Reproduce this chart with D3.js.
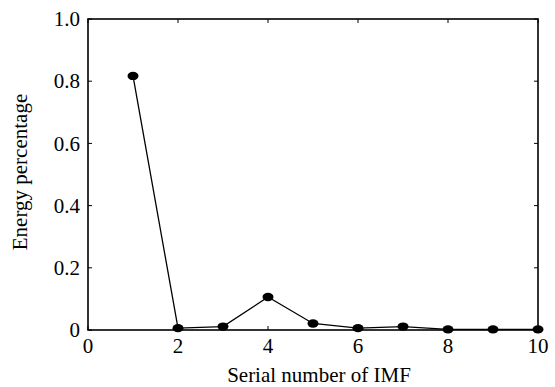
<!DOCTYPE html>
<html><head><meta charset="utf-8">
<script src="https://cdn.jsdelivr.net/npm/d3@7"></script>
<style>body{margin:0;background:#fff}svg{display:block}text{font-family:"Liberation Serif","Times New Roman",serif;fill:#000}</style>
</head><body>
<svg id="c" width="555" height="387"></svg>
<script>
const imf = [1,2,3,4,5,6,7,8,9,10];
const energy = [0.817,0.006,0.011,0.106,0.021,0.006,0.011,0.002,0.002,0.002];
const xTicks = [0,2,4,6,8,10];
const yTicks = [0,0.2,0.4,0.6,0.8,1.0];

const svg = d3.select("#c");
const L=88,R=538,T=19,B=330;
const x = d3.scaleLinear().domain([0,10]).range([L,R]);
const y = d3.scaleLinear().domain([0,1]).range([B,T]);
const fs = 21;

svg.append("rect").attr("x",L).attr("y",T).attr("width",R-L).attr("height",B-T)
  .attr("fill","none").attr("stroke","#000").attr("stroke-width",1.6);

const g = svg.append("g");
xTicks.forEach(t=>{
  g.append("line").attr("x1",x(t)).attr("x2",x(t)).attr("y1",B).attr("y2",B-4).attr("stroke","#000");
  g.append("line").attr("x1",x(t)).attr("x2",x(t)).attr("y1",T).attr("y2",T+4).attr("stroke","#000");
  g.append("text").attr("x",x(t)).attr("y",353).attr("text-anchor","middle").attr("font-size",fs)
    .text(d3.format("d")(t));
});
yTicks.forEach(t=>{
  g.append("line").attr("x1",L).attr("x2",L+4).attr("y1",y(t)).attr("y2",y(t)).attr("stroke","#000");
  g.append("line").attr("x1",R).attr("x2",R-4).attr("y1",y(t)).attr("y2",y(t)).attr("stroke","#000");
  g.append("text").attr("x",80).attr("y",y(t)).attr("dy","0.34em").attr("text-anchor","end").attr("font-size",fs)
    .text(t===0?"0":d3.format(".1f")(t));
});

const line = d3.line().x((d,i)=>x(imf[i])).y(d=>y(d));
svg.append("path").datum(energy).attr("d",line).attr("fill","none").attr("stroke","#000").attr("stroke-width",1.3);
svg.selectAll("ellipse.p").data(energy).enter().append("ellipse")
  .attr("cx",(d,i)=>x(imf[i])).attr("cy",d=>y(d)).attr("rx",5.5).attr("ry",4.2).attr("fill","#000");

svg.append("text").attr("x",(226+412)/2).attr("y",382).attr("text-anchor","middle").attr("font-size",fs)
  .text("Serial number of IMF");
svg.append("text").attr("transform","translate(27,172) rotate(-90)").attr("text-anchor","middle").attr("font-size",fs)
  .text("Energy percentage");
</script>
</body></html>
